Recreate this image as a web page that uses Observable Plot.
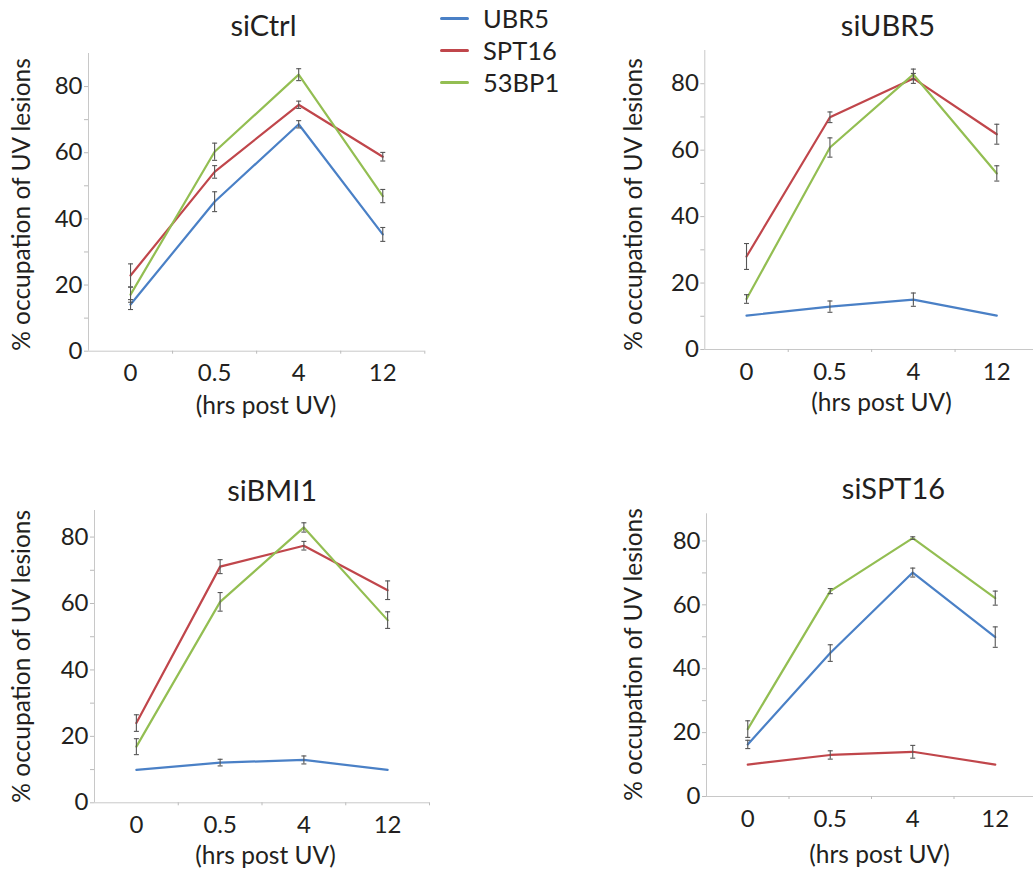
<!DOCTYPE html>
<html><head><meta charset="utf-8">
<script src="https://cdn.jsdelivr.net/npm/d3@7"></script>
<script src="https://cdn.jsdelivr.net/npm/@observablehq/plot@0.6"></script>
<style>
html,body{margin:0;padding:0;background:#fff;}
body{width:1033px;height:873px;overflow:hidden;font-family:Lato,"Open Sans",sans-serif;color:#231f20;}
#root{position:relative;width:1033px;height:873px;}
.panel{position:absolute;}
.leg{position:absolute;display:flex;align-items:center;height:32px;font-size:25.5px;}
.leg .sw{width:29px;height:3px;border-radius:1.5px;margin-right:14px;}
</style></head><body><div id="root"></div>
<script>
// ---- data ----
const timepoints = ["0", "0.5", "4", "12"];
const seriesNames = ["UBR5", "SPT16", "53BP1"];
const seriesColors = ["#4a80c6", "#c0464b", "#93be52"];
const panelTitles = ["siCtrl", "siUBR5", "siBMI1", "siSPT16"];
const yLabel = "% occupation of UV lesions";
const xLabel = "(hrs post UV)";

// means (%), by time point 0, 0.5, 4, 12 h
const siCtrl_UBR5 = [14.1, 45.2, 68.6, 35.3];
const siCtrl_SPT16 = [22.9, 54.2, 74.5, 58.8];
const siCtrl_53BP1 = [17.1, 60.3, 83.6, 46.9];
const siUBR5_UBR5 = [10.2, 12.9, 15.0, 10.2];
const siUBR5_SPT16 = [28.0, 69.9, 81.6, 64.8];
const siUBR5_53BP1 = [15.2, 60.8, 82.8, 53.0];
const siBMI1_UBR5 = [9.9, 12.1, 12.9, 9.9];
const siBMI1_SPT16 = [24.0, 71.1, 77.4, 64.0];
const siBMI1_53BP1 = [16.9, 60.5, 82.9, 55.0];
const siSPT16_UBR5 = [16.3, 44.9, 70.1, 49.9];
const siSPT16_SPT16 = [10.0, 13.0, 14.0, 10.0];
const siSPT16_53BP1 = [21.1, 64.3, 80.9, 62.1];

// error bar half-lengths (null = no error bar drawn)
const siCtrl_UBR5_err = [1.5, 3.0, 1.1, 2.1];
const siCtrl_SPT16_err = [3.5, 1.9, 1.1, 1.3];
const siCtrl_53BP1_err = [2.3, 2.6, 1.8, 2.0];
const siUBR5_UBR5_err = [null, 1.7, 2.0, null];
const siUBR5_SPT16_err = [3.9, 1.6, 1.5, 3.0];
const siUBR5_53BP1_err = [1.3, 2.9, 1.6, 2.3];
const siBMI1_UBR5_err = [null, 1.0, 1.2, null];
const siBMI1_SPT16_err = [2.5, 2.1, 1.3, 2.8];
const siBMI1_53BP1_err = [2.4, 2.8, 1.4, 2.5];
const siSPT16_UBR5_err = [1.3, 2.6, 1.4, 3.2];
const siSPT16_SPT16_err = [null, 1.3, 2.0, null];
const siSPT16_53BP1_err = [2.6, 0.8, 0.4, 2.2];

const panelData = {
  siCtrl: [[siCtrl_UBR5, siCtrl_UBR5_err], [siCtrl_SPT16, siCtrl_SPT16_err], [siCtrl_53BP1, siCtrl_53BP1_err]],
  siUBR5: [[siUBR5_UBR5, siUBR5_UBR5_err], [siUBR5_SPT16, siUBR5_SPT16_err], [siUBR5_53BP1, siUBR5_53BP1_err]],
  siBMI1: [[siBMI1_UBR5, siBMI1_UBR5_err], [siBMI1_SPT16, siBMI1_SPT16_err], [siBMI1_53BP1, siBMI1_53BP1_err]],
  siSPT16: [[siSPT16_UBR5, siSPT16_UBR5_err], [siSPT16_SPT16, siSPT16_SPT16_err], [siSPT16_53BP1, siSPT16_53BP1_err]]
};
const yMaxes = {siCtrl: 90, siUBR5: 90, siBMI1: 88, siSPT16: 88.5};

// ---- layout ----
const layout = {
  siCtrl:  {left: 0,   top: 0,   width: 450, height: 440, mL: 88,    mR: 25.7, mT: 53,   mB: 89.3, titleX: 263,   titleY: 35,  ylabX: 21.5,  ylabY: 204,   xlabX: 265.5, xlabY: 413},
  siUBR5:  {left: 600, top: 0,   width: 440, height: 440, mL: 104.3, mR: 2,    mT: 50,   mB: 91,   titleX: 887.5, titleY: 35,  ylabX: 633.7, ylabY: 204,   xlabX: 881,   xlabY: 410},
  siBMI1:  {left: 0,   top: 440, width: 450, height: 433, mL: 94,    mR: 21,   mT: 70,   mB: 70.7, titleX: 271.7, titleY: 500, ylabX: 21.7,  ylabY: 655.8, xlabX: 265,   xlabY: 863},
  siSPT16: {left: 600, top: 440, width: 440, height: 433, mL: 106,   mR: 4,    mT: 73.3, mB: 77,   titleX: 893,   titleY: 498, ylabX: 634,   ylabY: 654,   xlabX: 879,   xlabY: 862}
};

const capSymbol = {draw(ctx) { ctx.moveTo(-2.5, 0); ctx.lineTo(2.5, 0); }};
const root = document.getElementById("root");

for (const name of panelTitles) {
  const L = layout[name];
  const rows = [];
  panelData[name].forEach(([vals, errs], si) => {
    vals.forEach((v, ti) => rows.push({series: seriesNames[si], t: timepoints[ti], xi: ti, v, e: errs[ti]}));
  });
  const errRows = rows.filter(d => d.e != null);
  const yMax = yMaxes[name];
  const fL = L.mL, fT = L.mT;
  const chart = Plot.plot({
    width: L.width, height: L.height,
    marginLeft: L.mL, marginRight: L.mR, marginTop: L.mT, marginBottom: L.mB,
    style: {fontFamily: "Lato, 'Open Sans', sans-serif", background: "transparent", overflow: "visible"},
    x: {type: "linear", domain: [-0.5, timepoints.length - 0.5], axis: null},
    y: {type: "linear", domain: [0, yMax], axis: null},
    color: {domain: seriesNames, range: seriesColors},
    marks: [
      Plot.ruleX([-0.5], {stroke: "#c8c8c8", strokeWidth: 1}),
      Plot.ruleY([0], {stroke: "#c8c8c8", strokeWidth: 1}),
      Plot.axisY({ticks: d3.range(0, yMax, 10), tickSize: 4, tickPadding: 2, stroke: "#bbb", fill: "#231f20",
        fontSize: 24, label: null, tickFormat: d => d % 20 === 0 ? String(d) : ""}),
      Plot.axisX({ticks: d3.range(0.5, timepoints.length, 1), tickSize: 3, stroke: "#bbb", label: null, tickFormat: () => ""}),
      Plot.axisX({ticks: d3.range(0, timepoints.length, 1), tickSize: 0, tickPadding: 13, fill: "#231f20",
        fontSize: 24, label: null, tickFormat: i => timepoints[i]}),
      Plot.line(rows, {x: "xi", y: "v", z: "series", stroke: "series", strokeWidth: 2.2}),
      Plot.ruleX(errRows, {x: "xi", y1: d => d.v - d.e, y2: d => d.v + d.e, stroke: "#555", strokeWidth: 1.1}),
      Plot.dot(errRows, {x: "xi", y: d => d.v - d.e, symbol: capSymbol, fill: "none", stroke: "#555", strokeWidth: 1.1}),
      Plot.dot(errRows, {x: "xi", y: d => d.v + d.e, symbol: capSymbol, fill: "none", stroke: "#555", strokeWidth: 1.1}),
      Plot.text([name], {frameAnchor: "top-left", dx: L.titleX - L.left - fL, dy: L.titleY - L.top - fT,
        textAnchor: "middle", lineAnchor: "bottom", fontSize: 29, fill: "#231f20"}),
      Plot.text([yLabel], {frameAnchor: "top-left", dx: L.ylabX - L.left - fL, dy: L.ylabY - L.top - fT,
        rotate: -90, textAnchor: "middle", lineAnchor: "middle", fontSize: 24.5, fill: "#231f20"}),
      Plot.text([xLabel], {frameAnchor: "top-left", dx: L.xlabX - L.left - fL, dy: L.xlabY - L.top - fT,
        textAnchor: "middle", lineAnchor: "bottom", fontSize: 24.5, fill: "#231f20"})
    ]
  });
  chart.classList.add("panel");
  chart.style.left = L.left + "px";
  chart.style.top = L.top + "px";
  root.appendChild(chart);
}

// legend
const legendY = [18, 50, 82];
seriesNames.forEach((s, i) => {
  const el = document.createElement("div");
  el.className = "leg";
  el.style.left = "440px";
  el.style.top = (legendY[i] - 16) + "px";
  el.innerHTML = `<span class="sw" style="background:${seriesColors[i]}"></span><span>${s}</span>`;
  root.appendChild(el);
});
</script></body></html>
